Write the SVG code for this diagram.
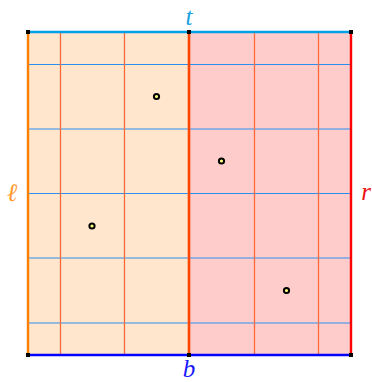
<svg xmlns="http://www.w3.org/2000/svg" width="372" height="382" viewBox="0 0 372 382">
<style>
.h{stroke:#2b8ff0;stroke-width:1.1}
.v{stroke:#ff6a3a;stroke-width:1.3}
.lab{font-family:"Liberation Serif",serif;font-style:italic;font-size:25px;text-anchor:middle}
.pt{fill:#ffff80;stroke:#000;stroke-width:2}
.corner{fill:#000}
</style>
<g id="regions">
<rect x="28" y="32" width="161" height="323" fill="#ffe6cc"/>
<rect x="189" y="32" width="162" height="323" fill="#ffcccc"/>
</g>
<g id="connectors">
<line class="h" x1="28" y1="64.5" x2="351" y2="64.5"/>
<line class="h" x1="28" y1="129" x2="351" y2="129"/>
<line class="h" x1="28" y1="193.5" x2="351" y2="193.5"/>
<line class="h" x1="28" y1="258" x2="351" y2="258"/>
<line class="h" x1="28" y1="323" x2="351" y2="323"/>
<line class="v" x1="60.5" y1="32" x2="60.5" y2="355"/>
<line class="v" x1="124.5" y1="32" x2="124.5" y2="355"/>
<line class="v" x1="254.5" y1="32" x2="254.5" y2="355"/>
<line class="v" x1="318.5" y1="32" x2="318.5" y2="355"/>
<line x1="189" y1="32" x2="189" y2="355" stroke="#ff4500" stroke-width="2.6"/>
<line id="left" x1="28" y1="32" x2="28" y2="355" stroke="#ff8000" stroke-width="2.4"/>
<line id="right" x1="351" y1="32" x2="351" y2="355" stroke="#ff0000" stroke-width="2.4"/>
<line id="top" x1="28" y1="32" x2="351" y2="32" stroke="#00a0e8" stroke-width="2.4"/>
<line id="bottom" x1="28" y1="355" x2="351" y2="355" stroke="#0000ff" stroke-width="2.4"/>
</g>
<g id="corners">
<rect class="corner" x="26" y="30" width="4" height="4"/>
<rect class="corner" x="187" y="30" width="4" height="4"/>
<rect class="corner" x="349" y="30" width="4" height="4"/>
<rect class="corner" x="26" y="353" width="4" height="4"/>
<rect class="corner" x="187" y="353" width="4" height="4"/>
<rect class="corner" x="349" y="353" width="4" height="4"/>
</g>
<g id="points">
<circle class="pt" cx="156.5" cy="96.5" r="2.6"/>
<circle class="pt" cx="221.5" cy="161" r="2.6"/>
<circle class="pt" cx="92" cy="226" r="2.6"/>
<circle class="pt" cx="286.5" cy="290.5" r="2.6"/>
</g>
<g id="labels">
<text class="lab" x="189" y="25" fill="#1ba1e2">t</text>
<text class="lab" x="189" y="377" fill="#1a1aff">b</text>
<text class="lab" x="12" y="201" fill="#ff9a2e">ℓ</text>
<text class="lab" x="366" y="200" fill="#ee1111">r</text>
</g>
</svg>
